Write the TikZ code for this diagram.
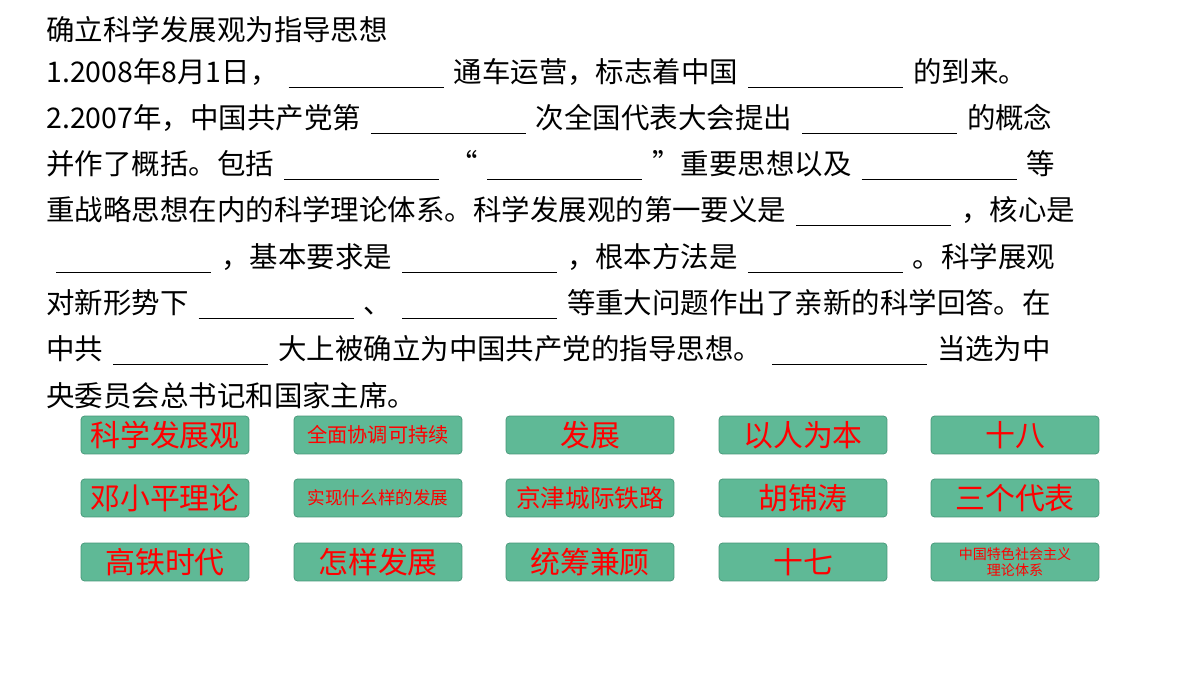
\documentclass[tikz,border=0pt]{standalone}
\usepackage{fontspec}
\setmainfont{Noto Sans CJK SC}
\definecolor{btnfill}{RGB}{95,185,150}
\definecolor{btnline}{RGB}{70,150,120}
\newcommand\blank{\hspace{0.2cm}\rule[-0.12cm]{3.1cm}{0.6pt}\hspace{0.2cm}}
\tikzset{
  line/.style={anchor=west,inner sep=0pt,font=\fontsize{16.2pt}{18pt}\selectfont},
  btn/.style={draw=btnline,fill=btnfill,rounded corners=2pt,minimum width=3.36cm,
    minimum height=0.76cm,inner sep=0pt,text=red,font=\fontsize{17pt}{19pt}\selectfont},
  small/.style={font=\fontsize{11.5pt}{13pt}\selectfont},
  tiny/.style={font=\fontsize{8pt}{9.5pt}\selectfont,align=center}
}
\begin{document}
\begin{tikzpicture}[x=0.02cm,y=-0.02cm]
	\useasboundingbox (0,0) rectangle (1200,675);
	\node[line] (l0) at (46,30) {确立科学发展观为指导思想};
	\node[line] (l1) at (46,73) {1.2008年8月1日，\blank 通车运营，标志着中国\blank 的到来。};
	\node[line] (l2) at (46,119) {2.2007年，中国共产党第\blank 次全国代表大会提出\blank 的概念};
	\node[line] (l3) at (46,165) {并作了概括。包括\blank “\blank ”重要思想以及\blank 等};
	\node[line] (l4) at (46,211) {重战略思想在内的科学理论体系。科学发展观的第一要义是\blank ，核心是};
	\node[line] (l5) at (46,258) {\blank ，基本要求是\blank ，根本方法是\blank 。科学展观};
	\node[line] (l6) at (46,304) {对新形势下\blank 、\blank 等重大问题作出了亲新的科学回答。在};
	\node[line] (l7) at (46,350) {中共\blank 大上被确立为中国共产党的指导思想。\blank 当选为中};
	\node[line] (l8) at (46,396) {央委员会总书记和国家主席。};

	\node[btn] (b11) at (165,435) {科学发展观};
	\node[btn,small] (b12) at (378,435) {全面协调可持续};
	\node[btn] (b13) at (590,435) {发展};
	\node[btn] (b14) at (803,435) {以人为本};
	\node[btn] (b15) at (1015,435) {十八};
	\node[btn] (b21) at (165,498) {邓小平理论};
	\node[btn,font=\fontsize{10pt}{12pt}\selectfont] (b22) at (378,498) {实现什么样的发展};
	\node[btn,font=\fontsize{14pt}{16pt}\selectfont] (b23) at (590,498) {京津城际铁路};
	\node[btn] (b24) at (803,498) {胡锦涛};
	\node[btn] (b25) at (1015,498) {三个代表};
	\node[btn] (b31) at (165,562) {高铁时代};
	\node[btn] (b32) at (378,562) {怎样发展};
	\node[btn] (b33) at (590,562) {统筹兼顾};
	\node[btn] (b34) at (803,562) {十七};
	\node[btn,tiny] (b35) at (1015,562) {中国特色社会主义\\理论体系};
\end{tikzpicture}
\end{document}
